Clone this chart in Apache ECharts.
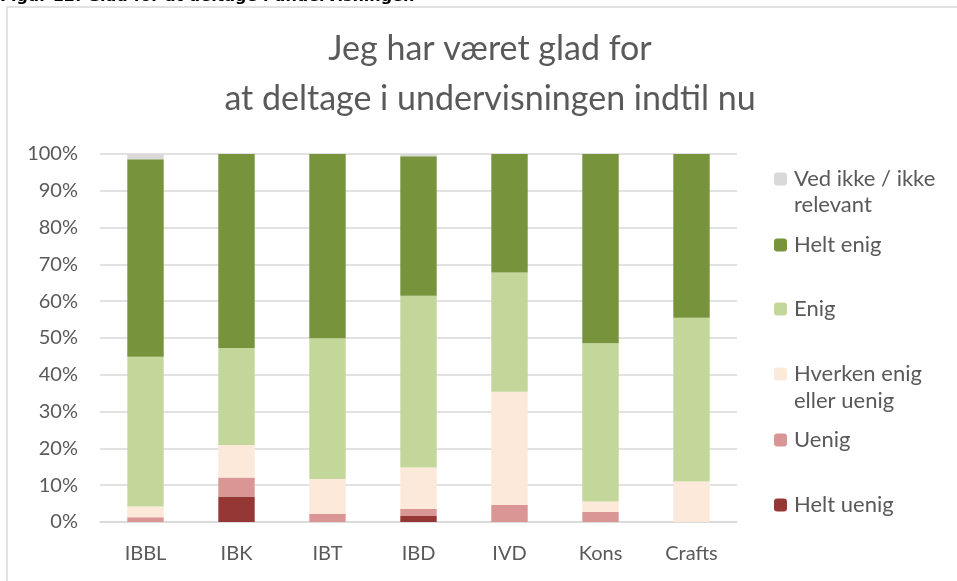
<!DOCTYPE html>
<html>
<head>
<meta charset="utf-8">
<script src="https://cdn.jsdelivr.net/npm/echarts@6/dist/echarts.min.js"></script>
<style>
  html, body { margin: 0; padding: 0; background: #fff; }
  #chart { width: 957px; height: 581px; }
</style>
</head>
<body>
<div id="chart"></div>
<script>
// kategorier og andele (%)
const categories = ['IBBL', 'IBK', 'IBT', 'IBD', 'IVD', 'Kons', 'Crafts']
const heltUenig = [0, 6.9, 0, 1.6, 0, 0, 0]
const uenig = [1.3, 5.2, 2.2, 1.9, 4.6, 2.7, 0]
const hverken = [2.9, 8.8, 9.5, 11.3, 30.8, 2.9, 11.0]
const enig = [40.7, 26.4, 38.2, 46.7, 32.4, 43.0, 44.5]
const heltEnig = [53.7, 52.7, 50.1, 37.9, 32.2, 51.4, 44.5]
const vedIkke = [1.4, 0, 0, 0.6, 0, 0, 0]
const yTicks = [0, 10, 20, 30, 40, 50, 60, 70, 80, 90, 100]

const FONT = 'Lato'
const TXT = '#595959'

const seriesDefs = [
  { name: 'Helt uenig', data: heltUenig, color: '#953735' },
  { name: 'Uenig', data: uenig, color: '#da9694' },
  { name: 'Hverken enig eller uenig', data: hverken, color: '#fde9d9' },
  { name: 'Enig', data: enig, color: '#c4d79b' },
  { name: 'Helt enig', data: heltEnig, color: '#77933c' },
  { name: 'Ved ikke / ikke relevant', data: vedIkke, color: '#d9d9d9' }
]

// legend: en boks pr. punkt, så markøren flugter med første linje
const legendRows = [
  { name: 'Ved ikke / ikke relevant', first: 'Ved ikke / ikke', y: 179 },
  { name: 'Helt enig', first: 'Helt enig', y: 245 },
  { name: 'Enig', first: 'Enig', y: 309 },
  { name: 'Hverken enig eller uenig', first: 'Hverken enig', y: 374 },
  { name: 'Uenig', first: 'Uenig', y: 440 },
  { name: 'Helt uenig', first: 'Helt uenig', y: 505 }
]
const legends = legendRows.map(row => ({
  data: [row.name],
  left: 774,
  top: row.y - 12,
  padding: 0,
  itemWidth: 13,
  itemHeight: 13,
  itemGap: 0,
  selectedMode: false,
  formatter: () => row.first,
  textStyle: { fontFamily: FONT, fontSize: 22, color: TXT, lineHeight: 24, padding: [0, 0, 0, 2] }
}))

const option = {
  animation: false,
  backgroundColor: '#fff',
  title: {
    text: 'Jeg har været glad for\nat deltage i undervisningen indtil nu',
    left: 485,
    textAlign: 'center',
    top: 19,
    textStyle: { fontFamily: FONT, fontSize: 34, fontWeight: 'normal', color: TXT, lineHeight: 50 }
  },
  legend: legends,
  graphic: [
    { type: 'rect', shape: { x: 7, y: 7, width: 1000, height: 1000 }, style: { fill: 'none', stroke: '#d9d9d9', lineWidth: 1.5 }, silent: true },
    { type: 'text', left: 0, top: -11, style: { text: 'Figur 12: Glad for at deltage i undervisningen', font: 'bold 16px "DejaVu Sans"', fill: '#000' } },
    { type: 'text', left: 794, top: 194, style: { text: 'relevant', font: '22px Lato', fill: TXT } },
    { type: 'text', left: 794, top: 390, style: { text: 'eller uenig', font: '22px Lato', fill: TXT } }
  ],
  grid: { left: 100, right: 220, top: 154, bottom: 59 },
  xAxis: {
    type: 'category',
    data: categories,
    axisTick: { show: false },
    axisLine: { lineStyle: { color: '#d9d9d9', width: 1.5 } },
    axisLabel: { fontFamily: FONT, fontSize: 20, color: TXT, margin: 22 }
  },
  yAxis: {
    type: 'value',
    min: 0,
    max: 100,
    interval: 10,
    axisLine: { show: false },
    axisTick: { show: false },
    splitLine: { lineStyle: { color: '#d9d9d9', width: 1.5 } },
    axisLabel: {
      fontFamily: FONT, fontSize: 20, color: TXT, margin: 22,
      formatter: v => (yTicks.includes(v) ? v + '%' : '')
    }
  },
  series: seriesDefs.map(s => ({
    name: s.name,
    type: 'bar',
    stack: 'total',
    data: s.data,
    barWidth: '40%',
    itemStyle: { color: s.color },
    emphasis: { disabled: true }
  }))
}

const chart = echarts.init(document.getElementById('chart'))
chart.setOption(option)
</script>
</body>
</html>
